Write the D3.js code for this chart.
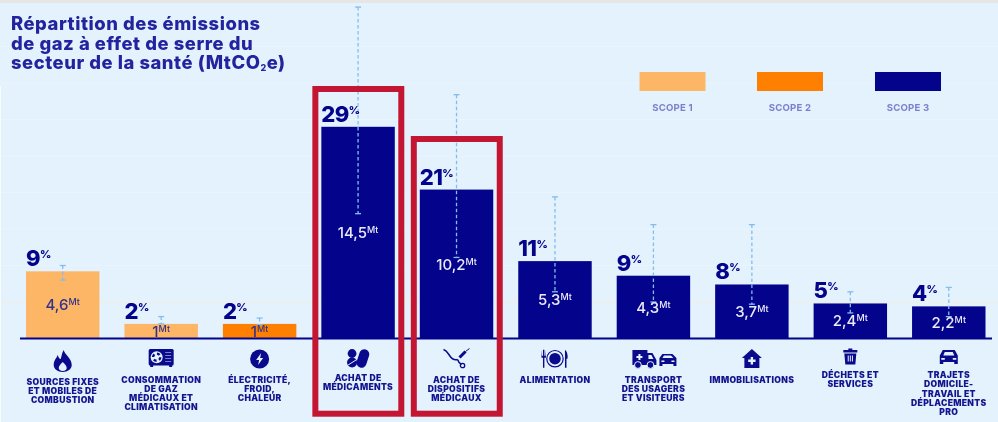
<!DOCTYPE html>
<html>
<head>
<meta charset="utf-8">
<script src="https://cdn.jsdelivr.net/npm/d3@7"></script>
<style>
html, body { margin: 0; padding: 0; background: #e4f2fd; }
svg { display: block; filter: blur(0.4px); }
text { font-family: Inter, "Open Sans", sans-serif; }
</style>
</head>
<body>
<svg id="chart" width="998" height="422"></svg>
<script>
var categories = ['sources', 'gaz', 'electricite', 'medicaments', 'dispositifs', 'alimentation', 'transport', 'immobilisations', 'dechets', 'trajets'];
var labels = [
    ['SOURCES FIXES', 'ET MOBILES DE', 'COMBUSTION'],
    ['CONSOMMATION', 'DE GAZ', 'MÉDICAUX ET', 'CLIMATISATION'],
    ['ÉLECTRICITÉ,', 'FROID,', 'CHALEUR'],
    ['ACHAT DE', 'MÉDICAMENTS'],
    ['ACHAT DE', 'DISPOSITIFS', 'MÉDICAUX'],
    ['ALIMENTATION'],
    ['TRANSPORT', 'DES USAGERS', 'ET VISITEURS'],
    ['IMMOBILISATIONS'],
    ['DÉCHETS ET', 'SERVICES'],
    ['TRAJETS', 'DOMICILE-', 'TRAVAIL ET', 'DÉPLACEMENTS', 'PRO']
];
var values = [4.6, 1, 1, 14.5, 10.2, 5.3, 4.3, 3.7, 2.4, 2.2];
var valueLabels = ['4,6', '1', '1', '14,5', '10,2', '5,3', '4,3', '3,7', '2,4', '2,2'];
var percents = [9, 2, 2, 29, 21, 11, 9, 8, 5, 4];
var errLow = [4.0, 1.0, 0.95, 8.55, 5.55, 3.2, 2.5, 2.35, 1.75, 1.5];
var errHigh = [5.0, 1.5, 1.4, 22.7, 16.7, 9.7, 7.8, 7.8, 3.2, 3.5];
var barScopes = [1, 1, 2, 3, 3, 3, 3, 3, 3, 3];
var scopes = [1, 2, 3];
var titleLines = ['Répartition des émissions', 'de gaz à effet de serre du'];
var highlighted = ['medicaments', 'dispositifs'];

var navy = '#03038c', titleBlue = '#23239f', errBlue = '#83bdec', red = '#c31632';
var scopeColor = d3.scaleOrdinal().domain(scopes).range(['#fdb566', '#ff8000', navy]);
var labelBaseline = [385, 382.7, 382.7, 380.7, 382.7, 382.7, 382.7, 382.7, 378.3, 378.3];
var baseY = 338.5;

var svg = d3.select('#chart');
var x = d3.scaleBand().domain(categories).range([26, 985.5]).paddingInner(0.254).paddingOuter(0);
var y = d3.scaleLinear().domain([0, 25]).range([baseY, baseY - 25 * 14.6]);
var cx = function(c) { return x(c) + x.bandwidth() / 2; };

svg.append('rect').attr('width', 998).attr('height', 422).attr('fill', '#e4f2fd');
svg.append('rect').attr('width', 998).attr('height', 3).attr('fill', '#e6e6e6');
svg.append('rect').attr('y', 86).attr('width', 1).attr('height', 336).attr('fill', '#f6fbff');

// faint grid
svg.append('g').selectAll('line').data(d3.range(2.5, 22.5, 2.5)).enter().append('line')
    .attr('x1', 1).attr('x2', 998)
    .attr('y1', function(d) { return y(d); }).attr('y2', function(d) { return y(d); })
    .attr('stroke', function(d) { return d === 2.5 ? '#f2eee0' : '#e9f4fd'; })
    .attr('stroke-width', 1);

// title
var title = svg.append('g').attr('fill', titleBlue).attr('font-size', 18.4).attr('font-weight', 800).attr('letter-spacing', 0.55);
titleLines.forEach(function(t, i) {
    title.append('text').attr('x', 11).attr('y', 30 + i * 19.5).text(t);
});
var t3 = title.append('text').attr('x', 11).attr('y', 69);
t3.append('tspan').text('secteur de la santé (MtCO');
t3.append('tspan').attr('font-size', 9).attr('dy', 2).text('2');
t3.append('tspan').attr('dy', -2).text('e)');

// legend
var legend = svg.append('g').selectAll('g').data(scopes).enter().append('g')
    .attr('transform', function(d, i) { return 'translate(' + [639.5, 757, 875][i] + ',72)'; });
legend.append('rect').attr('width', 66).attr('height', 19).attr('fill', function(d) { return scopeColor(d); });
legend.append('text').attr('x', 33).attr('y', 39).attr('text-anchor', 'middle')
    .attr('font-size', 9.6).attr('font-weight', 700).attr('letter-spacing', 0.2).attr('fill', '#7b80cc')
    .text(function(d) { return 'SCOPE ' + d; });

// bars
var rows = categories.map(function(c, i) {
    return { c: c, v: values[i], label: valueLabels[i], pct: percents[i], lo: errLow[i], hi: errHigh[i], scope: barScopes[i], lines: labels[i], base: labelBaseline[i] };
});
svg.append('g').selectAll('rect').data(rows).enter().append('rect')
    .attr('x', function(d) { return x(d.c); })
    .attr('y', function(d) { return y(d.v); })
    .attr('width', x.bandwidth())
    .attr('height', function(d) { return y(0) - y(d.v); })
    .attr('fill', function(d) { return scopeColor(d.scope); });

// axis line
svg.append('line').attr('x1', 20).attr('x2', 992).attr('y1', baseY).attr('y2', baseY)
    .attr('stroke', navy).attr('stroke-width', 2);

// error bars
var err = svg.append('g').selectAll('g').data(rows).enter().append('g')
    .attr('stroke', errBlue).attr('stroke-width', 1.3).attr('fill', 'none');
err.append('line')
    .attr('x1', function(d) { return cx(d.c); }).attr('x2', function(d) { return cx(d.c); })
    .attr('y1', function(d) { return y(d.hi); }).attr('y2', function(d) { return y(d.lo); })
    .attr('stroke-dasharray', '3.5 2.5');
['hi', 'lo'].forEach(function(k) {
    err.append('line')
        .attr('x1', function(d) { return cx(d.c) - 3; }).attr('x2', function(d) { return cx(d.c) + 3; })
        .attr('y1', function(d) { return y(d[k]); }).attr('y2', function(d) { return y(d[k]); });
});

// percent labels
var pct = svg.append('g').selectAll('text').data(rows).enter().append('text')
    .attr('x', function(d) { return x(d.c); })
    .attr('y', function(d) { return y(d.v) - 5; })
    .attr('fill', navy).attr('font-weight', 800);
pct.append('tspan').attr('font-size', 22).attr('letter-spacing', -0.6).text(function(d) { return d.pct; });
pct.append('tspan').attr('font-size', 11).attr('dy', -8).text('%');

// value labels
var val = svg.append('g').selectAll('text').data(rows).enter().append('text')
    .attr('x', function(d) { return cx(d.c); })
    .attr('y', function(d) { return (y(d.v) + y(0)) / 2 + 5.5; })
    .attr('text-anchor', 'middle').attr('font-weight', 500)
    .attr('fill', function(d) { return d.scope === 3 ? '#eaeaf8' : '#33338c'; });
val.append('tspan').attr('font-size', 15).text(function(d) { return d.label; });
val.append('tspan').attr('font-size', 9).attr('dy', -5).text('Mt');

// category labels
var cat = svg.append('g').selectAll('text').data(rows).enter().append('text')
    .attr('text-anchor', 'middle').attr('fill', '#14148f')
    .attr('font-size', 8.6).attr('font-weight', 900).attr('letter-spacing', 0.3);
cat.selectAll('tspan').data(function(d) {
    return d.lines.map(function(l, i) { return { l: l, i: i, d: d }; });
}).enter().append('tspan')
    .attr('x', function(e) { return cx(e.d.c); })
    .attr('y', function(e) { return e.d.base + e.i * 9.1; })
    .text(function(e) { return e.l; });

// highlight boxes
var boxTop = { medicaments: 89, dispositifs: 139 };
svg.append('g').selectAll('rect').data(highlighted).enter().append('rect')
    .attr('x', function(c) { return x(c) - 6; })
    .attr('y', function(c) { return boxTop[c]; })
    .attr('width', x.bandwidth() + 12.5)
    .attr('height', function(c) { return 413.7 - boxTop[c]; })
    .attr('fill', 'none').attr('stroke', red).attr('stroke-width', 6);

// icons, drawn round the centre of their column
var ink = '#0a0a8c', bg = '#e4f2fd';
var iconDraw = {
    sources: function(g) {
        g.append('path').attr('fill', ink).attr('d', 'M1,-11C2,-6 9,-3 9,4C9,8 5,11 0,11C-5,11 -9,8 -9,4C-9,-1 -6,-3 -5,-6C-4,-3 -3,-2 -2,-2C-1,-5 -1,-8 1,-11Z');
        g.append('path').attr('fill', bg).attr('d', 'M0,1C2,3 4,5 4,7C4,9 2,10 0,10C-2,10 -4,9 -4,7C-4,5 -2,3 0,1Z');
    },
    gaz: function(g) {
        g.append('rect').attr('x', -12.5).attr('y', -10).attr('width', 25).attr('height', 16.5).attr('rx', 1.5).attr('fill', ink);
        g.append('rect').attr('x', -11).attr('y', 6).attr('width', 3).attr('height', 2).attr('fill', ink);
        g.append('rect').attr('x', 8).attr('y', 6).attr('width', 3).attr('height', 2).attr('fill', ink);
        g.append('circle').attr('cx', -4.5).attr('cy', -1.8).attr('r', 6).attr('fill', bg);
        g.append('circle').attr('cx', -4.5).attr('cy', -1.8).attr('r', 3.6).attr('fill', 'none').attr('stroke', ink).attr('stroke-width', 2.4).attr('stroke-dasharray', '3 2.6');
        [-7, -4, -1, 2].forEach(function(d) {
            g.append('rect').attr('x', 4).attr('y', d).attr('width', 6).attr('height', 1).attr('fill', '#7a7ecb');
        });
    },
    electricite: function(g) {
        g.append('circle').attr('r', 9.5).attr('fill', ink);
        g.append('path').attr('fill', bg).attr('d', 'M1.5,-6L-3.5,1L-0.5,1L-1.5,6L3.5,-1L0.5,-1Z');
    },
    medicaments: function(g) {
        g.append('rect').attr('x', 0).attr('y', -9).attr('width', 10).attr('height', 19).attr('rx', 5).attr('fill', ink).attr('transform', 'rotate(18 5 0)');
        g.append('circle').attr('cx', -6).attr('cy', -4.5).attr('r', 4.4).attr('fill', ink);
        g.append('circle').attr('cx', -6).attr('cy', 4.5).attr('r', 5).attr('fill', ink);
        g.append('line').attr('x1', -10).attr('x2', -2).attr('y1', 7).attr('y2', 2).attr('stroke', bg).attr('stroke-width', 1);
    },
    dispositifs: function(g) {
        g.append('path').attr('fill', 'none').attr('stroke', ink).attr('stroke-width', 1.5)
            .attr('d', 'M-13,-9C-10,-8 -9,-6 -7,-3C-5,0 -2,2 1,1M1,1C2,4 3,5 5,6');
        g.append('circle').attr('cx', 6).attr('cy', 7).attr('r', 2.2).attr('fill', 'none').attr('stroke', ink).attr('stroke-width', 1.3);
        g.append('path').attr('stroke', ink).attr('stroke-width', 3).attr('d', 'M3,-1L9,-7');
        g.append('path').attr('stroke', ink).attr('stroke-width', 1).attr('d', 'M9,-7L13,-10');
    },
    alimentation: function(g) {
        g.append('circle').attr('r', 8.2).attr('fill', 'none').attr('stroke', ink).attr('stroke-width', 1.2);
        g.append('circle').attr('r', 5.8).attr('fill', ink);
        g.append('path').attr('fill', ink).attr('d', 'M-12,-9L-10.6,-9L-10.6,9L-12,9ZM-13.5,-9L-13,-3L-9.5,-3L-9,-9L-9,-1L-13.5,-1Z');
        g.append('path').attr('fill', ink).attr('d', 'M10,-9C12.5,-7 13,-3 12.5,0L11.5,0L11.5,9L10,9Z');
    },
    transport: function(g) {
        g.append('path').attr('fill', ink).attr('d', 'M-21,-9L-6,-9L-6,-6L-1,-6L3,1L3,6L-21,6Z');
        g.append('path').attr('fill', bg).attr('d', 'M-15,-5L-13,-5L-13,-3L-11,-3L-11,-1L-13,-1L-13,1L-15,1L-15,-1L-17,-1L-17,-3L-15,-3ZM-5,-4L-2,-4L0,0L-5,0Z');
        g.selectAll('c').data([-15.5, -3]).enter().append('circle').attr('cx', function(d) { return d; }).attr('cy', 6).attr('r', 3.4).attr('fill', ink).attr('stroke', bg).attr('stroke-width', 1);
        g.append('path').attr('fill', ink).attr('d', 'M6,-1L9,-5L19,-5L23,-1L23,7L20,7L20,5L9,5L9,7L6,7Z');
        g.append('path').attr('fill', bg).attr('d', 'M9,-1L10.5,-3.5L17.5,-3.5L20,-1ZM8,1.5L11,1.5L11,3L8,3ZM18,1.5L21,1.5L21,3L18,3Z');
    },
    immobilisations: function(g) {
        g.append('path').attr('fill', ink).attr('d', 'M0,-10L10,-1L7.5,-1L7.5,9L-7.5,9L-7.5,-1L-10,-1Z');
        g.append('path').attr('fill', bg).attr('d', 'M-1.2,-2L1.2,-2L1.2,0.5L3.7,0.5L3.7,2.9L1.2,2.9L1.2,5.4L-1.2,5.4L-1.2,2.9L-3.7,2.9L-3.7,0.5L-1.2,0.5Z');
    },
    dechets: function(g) {
        g.append('path').attr('fill', ink).attr('d', 'M-7,-7.5L-2,-7.5L-2,-9L2,-9L2,-7.5L7,-7.5L7,-5L-7,-5ZM-6,-4L6,-4L5,7L-5,7Z');
        g.append('path').attr('fill', bg).attr('d', 'M-2.6,-2L-1.6,-2L-1.6,4L-2.6,4ZM-0.5,-2L0.5,-2L0.5,4L-0.5,4ZM1.6,-2L2.6,-2L2.6,4L1.6,4Z');
    },
    trajets: function(g) {
        g.append('path').attr('fill', ink).attr('d', 'M-9,-1.5L-6,-7L6,-7L9,-1.5L9,7L5.5,7L5.5,5L-5.5,5L-5.5,7L-9,7Z');
        g.append('path').attr('fill', bg).attr('d', 'M-5.5,-1.5L-4,-5L4,-5L5.5,-1.5ZM-7.5,1L-4,1L-4,2.8L-7.5,2.8ZM4,1L7.5,1L7.5,2.8L4,2.8Z');
    }
};
var iconY = { sources: 361, gaz: 359, electricite: 359, medicaments: 358, dispositifs: 358.5, alimentation: 358.7, transport: 359, immobilisations: 359, dechets: 357.5, trajets: 357 };
categories.forEach(function(c) {
    iconDraw[c](svg.append('g').attr('transform', 'translate(' + cx(c) + ',' + iconY[c] + ')'));
});
</script>
</body>
</html>
